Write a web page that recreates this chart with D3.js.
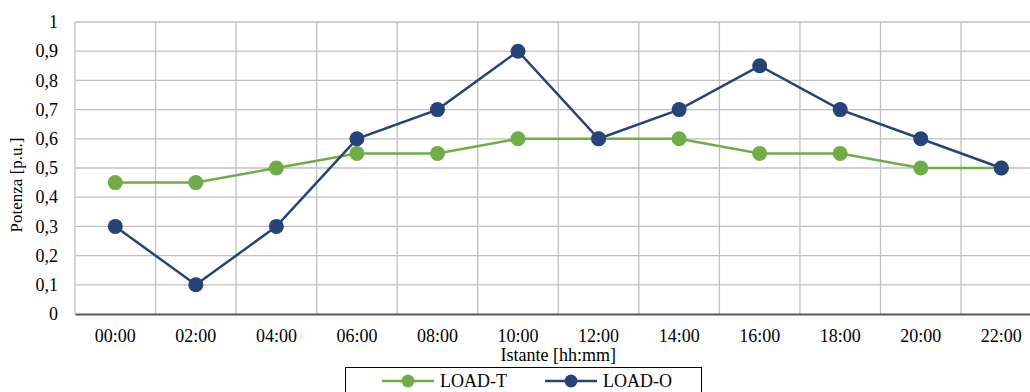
<!DOCTYPE html>
<html>
<head>
<meta charset="utf-8">
<script src="https://cdn.jsdelivr.net/npm/d3@7"></script>
<style>
body { margin: 0; background: #fff; }
svg { display: block; font-family: "Liberation Serif", "Times New Roman", serif; }
</style>
</head>
<body>
<div></div>
<script>
// chart data
var categories = ["00:00","02:00","04:00","06:00","08:00","10:00","12:00","14:00","16:00","18:00","20:00","22:00"];
var loadT = [0.45,0.45,0.5,0.55,0.55,0.6,0.6,0.6,0.55,0.55,0.5,0.5];
var loadO = [0.3,0.1,0.3,0.6,0.7,0.9,0.6,0.7,0.85,0.7,0.6,0.5];
var yTicks = [0,0.1,0.2,0.3,0.4,0.5,0.6,0.7,0.8,0.9,1];
var seriesNames = ["LOAD-T","LOAD-O"];
var seriesColors = ["#70ad47","#264478"];

var W = 1030, H = 392;
// note: "top" is reserved on window, so plot edges get their own names
var plotLeft = 75, plotTop = 22, plotBottom = 314, plotRight = 1041.6;

var svg = d3.select("body").select("div").append("svg")
	.attr("width", W)
	.attr("height", H);

var x = d3.scaleBand().domain(categories).range([plotLeft, plotRight]).padding(0);
var y = d3.scaleLinear().domain([0, 1]).range([plotBottom, plotTop]);

var fmt = function(d) { return d3.format("~g")(d).replace(".", ","); };

// horizontal gridlines
svg.append("g").selectAll("line")
	.data(yTicks.filter(function(d) { return d > 0; }))
	.enter().append("line")
	.attr("x1", plotLeft).attr("x2", plotRight)
	.attr("y1", function(d) { return y(d); })
	.attr("y2", function(d) { return y(d); })
	.attr("stroke", "#c0c0c0")
	.attr("stroke-width", 1.3);

// vertical gridlines (between categories)
svg.append("g").selectAll("line")
	.data(categories)
	.enter().append("line")
	.attr("x1", function(d) { return x(d); })
	.attr("x2", function(d) { return x(d); })
	.attr("y1", plotTop).attr("y2", plotBottom)
	.attr("stroke", "#c0c0c0")
	.attr("stroke-width", 1.3);

// y axis labels
var yAxis = svg.append("g")
	.attr("transform", "translate(" + plotLeft + ",0)")
	.call(d3.axisLeft(y).tickValues(yTicks).tickFormat(fmt).tickSize(0).tickPadding(17));
yAxis.select(".domain").remove();
yAxis.selectAll("text")
	.attr("font-family", "Liberation Serif")
	.attr("font-size", "18px")
	.attr("fill", "#000");

// x axis
var xAxis = svg.append("g")
	.attr("transform", "translate(0," + plotBottom + ")")
	.call(d3.axisBottom(x).tickSize(0).tickPadding(15));
xAxis.select(".domain")
	.attr("stroke", "#595959")
	.attr("stroke-width", 2);
xAxis.selectAll("text")
	.attr("font-family", "Liberation Serif")
	.attr("font-size", "18px")
	.attr("fill", "#000");

// axis titles
svg.append("text")
	.attr("transform", "translate(22," + ((plotTop + plotBottom) / 2 + 17) + ") rotate(-90)")
	.attr("text-anchor", "middle")
	.attr("font-size", "17px")
	.text("Potenza [p.u.]");

svg.append("text")
	.attr("x", (plotLeft + plotRight) / 2)
	.attr("y", 361)
	.attr("text-anchor", "middle")
	.attr("font-size", "18px")
	.text("Istante [hh:mm]");

// series
var line = d3.line()
	.x(function(d, i) { return x(categories[i]) + x.bandwidth() / 2; })
	.y(function(d) { return y(d); });

[loadT, loadO].forEach(function(vals, k) {
	var g = svg.append("g");
	g.append("path")
		.datum(vals)
		.attr("d", line)
		.attr("fill", "none")
		.attr("stroke", seriesColors[k])
		.attr("stroke-width", 2.5);
	g.selectAll("circle")
		.data(vals)
		.enter().append("circle")
		.attr("cx", function(d, i) { return x(categories[i]) + x.bandwidth() / 2; })
		.attr("cy", function(d) { return y(d); })
		.attr("r", 7.5)
		.attr("fill", seriesColors[k]);
});

// legend
var legend = svg.append("g");
legend.append("rect")
	.attr("x", 345.5).attr("y", 367.5)
	.attr("width", 356).attr("height", 40)
	.attr("fill", "#fff")
	.attr("stroke", "#000")
	.attr("stroke-width", 1);

var legX = [382, 545];
seriesNames.forEach(function(name, k) {
	legend.append("line")
		.attr("x1", legX[k]).attr("x2", legX[k] + 52)
		.attr("y1", 381).attr("y2", 381)
		.attr("stroke", seriesColors[k])
		.attr("stroke-width", 2.5);
	legend.append("circle")
		.attr("cx", legX[k] + 26).attr("cy", 381)
		.attr("r", 6.5)
		.attr("fill", seriesColors[k]);
	legend.append("text")
		.attr("x", legX[k] + 58).attr("y", 387)
		.attr("font-size", "18px")
		.text(name);
});
</script>
</body>
</html>
